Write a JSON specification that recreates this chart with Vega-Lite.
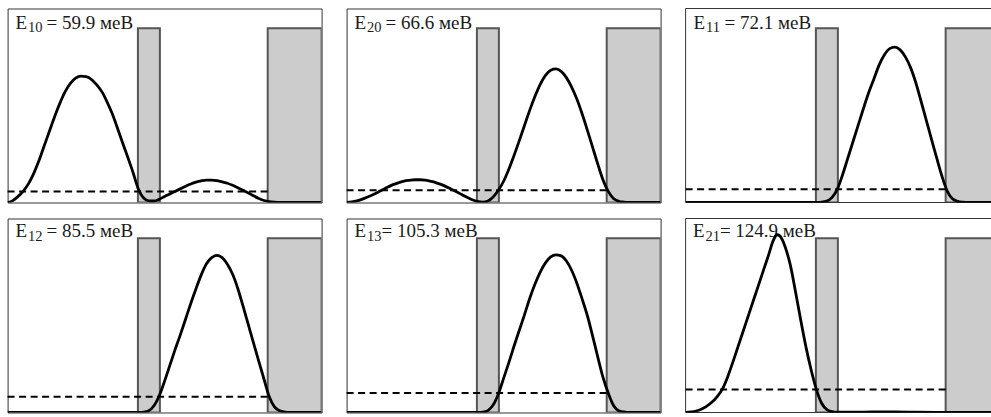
{
"$schema": "https://vega.github.io/schema/vega-lite/v6.json",
"background": "white",
"padding": {"left": 5.6, "top": 7.5, "right": 0, "bottom": 3},
"columns": 3,
"spacing": {"row": 16, "column": 25},
"bounds": "flush",
"datasets": {
"barriers": [{"x1": 12.45, "x2": 14.55, "bottom": 0, "top": 943}, {"x1": 24.85, "x2": 30, "bottom": 0, "top": 943}],
"frame": [{"xa": 0, "xb": 29.24, "ya": 1050, "yb": 1050}, {"xa": 0, "xb": 29.24, "ya": 0, "yb": 0}, {"xa": 0, "xb": 0, "ya": 0, "yb": 1050}],
"levels": [{"panel": 1, "E": 59.9, "xa": 0, "xb": 24.85}, {"panel": 2, "E": 66.6, "xa": 0, "xb": 24.85}, {"panel": 3, "E": 72.1, "xa": 0, "xb": 24.85}, {"panel": 4, "E": 85.5, "xa": 0, "xb": 24.85}, {"panel": 5, "E": 105.3, "xa": 0, "xb": 24.85}, {"panel": 6, "E": 124.9, "xa": 0, "xb": 24.85}],
"labels": [
{"panel": 1, "sym": "E", "sub": "10", "rest": "= 59.9 меВ"},
{"panel": 2, "sym": "E", "sub": "20", "rest": "= 66.6 меВ"},
{"panel": 3, "sym": "E", "sub": "11", "rest": "= 72.1 меВ"},
{"panel": 4, "sym": "E", "sub": "12", "rest": "= 85.5 меВ"},
{"panel": 5, "sym": "E", "sub": "13", "rest": "= 105.3 меВ"},
{"panel": 6, "sym": "E", "sub": "21", "rest": "= 124.9 меВ"}
],
"psi": [
{"p":1,"x":0,"y":0},{"p":1,"x":0.5,"y":10},{"p":1,"x":1,"y":33},{"p":1,"x":1.5,"y":62},{"p":1,"x":2,"y":102},{"p":1,"x":2.5,"y":158},{"p":1,"x":3,"y":227},{"p":1,"x":3.5,"y":307},{"p":1,"x":4,"y":387},{"p":1,"x":4.5,"y":466},{"p":1,"x":5,"y":538},{"p":1,"x":5.5,"y":600},{"p":1,"x":6,"y":645},{"p":1,"x":6.5,"y":673},{"p":1,"x":7,"y":684},{"p":1,"x":7.5,"y":681},{"p":1,"x":8,"y":667},{"p":1,"x":8.5,"y":638},{"p":1,"x":9,"y":600},{"p":1,"x":9.5,"y":545},{"p":1,"x":10,"y":480},{"p":1,"x":10.5,"y":402},{"p":1,"x":11,"y":321},{"p":1,"x":11.5,"y":242},{"p":1,"x":12,"y":160},{"p":1,"x":12.5,"y":72},{"p":1,"x":13,"y":24},{"p":1,"x":13.5,"y":9},{"p":1,"x":14,"y":8},{"p":1,"x":14.5,"y":18},{"p":1,"x":15,"y":33},{"p":1,"x":15.5,"y":46},{"p":1,"x":16,"y":60},{"p":1,"x":16.5,"y":74},{"p":1,"x":17,"y":88},{"p":1,"x":17.5,"y":100},{"p":1,"x":18,"y":110},{"p":1,"x":18.5,"y":117},{"p":1,"x":19,"y":121},{"p":1,"x":19.5,"y":121},{"p":1,"x":20,"y":118},{"p":1,"x":20.5,"y":112},{"p":1,"x":21,"y":104},{"p":1,"x":21.5,"y":93},{"p":1,"x":22,"y":80},{"p":1,"x":22.5,"y":66},{"p":1,"x":23,"y":52},{"p":1,"x":23.5,"y":36},{"p":1,"x":24,"y":22},{"p":1,"x":24.5,"y":11},{"p":1,"x":25,"y":5},{"p":1,"x":25.5,"y":2},{"p":1,"x":26,"y":0.5},{"p":1,"x":27,"y":0},{"p":1,"x":30,"y":0},
{"p":2,"x":0,"y":0},{"p":2,"x":0.5,"y":3},{"p":2,"x":1,"y":9},{"p":2,"x":1.5,"y":18},{"p":2,"x":2,"y":30},{"p":2,"x":2.5,"y":42},{"p":2,"x":3,"y":56},{"p":2,"x":3.5,"y":71},{"p":2,"x":4,"y":85},{"p":2,"x":4.5,"y":98},{"p":2,"x":5,"y":108},{"p":2,"x":5.5,"y":116},{"p":2,"x":6,"y":120},{"p":2,"x":6.5,"y":123},{"p":2,"x":7,"y":123},{"p":2,"x":7.5,"y":121},{"p":2,"x":8,"y":115},{"p":2,"x":8.5,"y":108},{"p":2,"x":9,"y":98},{"p":2,"x":9.5,"y":86},{"p":2,"x":10,"y":72},{"p":2,"x":10.5,"y":58},{"p":2,"x":11,"y":43},{"p":2,"x":11.5,"y":28},{"p":2,"x":12,"y":15},{"p":2,"x":12.5,"y":6},{"p":2,"x":13,"y":2},{"p":2,"x":13.5,"y":8},{"p":2,"x":14,"y":30},{"p":2,"x":14.5,"y":66},{"p":2,"x":15,"y":115},{"p":2,"x":15.5,"y":180},{"p":2,"x":16,"y":255},{"p":2,"x":16.5,"y":335},{"p":2,"x":17,"y":418},{"p":2,"x":17.5,"y":500},{"p":2,"x":18,"y":575},{"p":2,"x":18.5,"y":640},{"p":2,"x":19,"y":688},{"p":2,"x":19.5,"y":716},{"p":2,"x":20,"y":723},{"p":2,"x":20.5,"y":710},{"p":2,"x":21,"y":676},{"p":2,"x":21.5,"y":625},{"p":2,"x":22,"y":560},{"p":2,"x":22.5,"y":480},{"p":2,"x":23,"y":392},{"p":2,"x":23.5,"y":300},{"p":2,"x":24,"y":208},{"p":2,"x":24.5,"y":122},{"p":2,"x":25,"y":60},{"p":2,"x":25.5,"y":22},{"p":2,"x":26,"y":7},{"p":2,"x":26.5,"y":2},{"p":2,"x":27,"y":0},{"p":2,"x":30,"y":0},
{"p":3,"x":0,"y":0},{"p":3,"x":12,"y":0},{"p":3,"x":12.5,"y":0.5},{"p":3,"x":13,"y":2},{"p":3,"x":13.5,"y":8},{"p":3,"x":14,"y":28},{"p":3,"x":14.5,"y":72},{"p":3,"x":15,"y":150},{"p":3,"x":15.5,"y":240},{"p":3,"x":16,"y":330},{"p":3,"x":16.5,"y":420},{"p":3,"x":17,"y":510},{"p":3,"x":17.5,"y":595},{"p":3,"x":18,"y":670},{"p":3,"x":18.5,"y":745},{"p":3,"x":19,"y":800},{"p":3,"x":19.5,"y":833},{"p":3,"x":20,"y":841},{"p":3,"x":20.5,"y":826},{"p":3,"x":21,"y":788},{"p":3,"x":21.5,"y":730},{"p":3,"x":22,"y":648},{"p":3,"x":22.5,"y":548},{"p":3,"x":23,"y":445},{"p":3,"x":23.5,"y":342},{"p":3,"x":24,"y":240},{"p":3,"x":24.5,"y":142},{"p":3,"x":25,"y":62},{"p":3,"x":25.5,"y":20},{"p":3,"x":26,"y":6},{"p":3,"x":26.5,"y":1.5},{"p":3,"x":27,"y":0},{"p":3,"x":30,"y":0},
{"p":4,"x":0,"y":0},{"p":4,"x":12,"y":0},{"p":4,"x":12.5,"y":0.5},{"p":4,"x":13,"y":2},{"p":4,"x":13.5,"y":10},{"p":4,"x":14,"y":38},{"p":4,"x":14.5,"y":92},{"p":4,"x":15,"y":170},{"p":4,"x":15.5,"y":255},{"p":4,"x":16,"y":340},{"p":4,"x":16.5,"y":420},{"p":4,"x":17,"y":505},{"p":4,"x":17.5,"y":590},{"p":4,"x":18,"y":670},{"p":4,"x":18.5,"y":745},{"p":4,"x":19,"y":805},{"p":4,"x":19.5,"y":838},{"p":4,"x":20,"y":850},{"p":4,"x":20.5,"y":838},{"p":4,"x":21,"y":803},{"p":4,"x":21.5,"y":748},{"p":4,"x":22,"y":670},{"p":4,"x":22.5,"y":575},{"p":4,"x":23,"y":475},{"p":4,"x":23.5,"y":375},{"p":4,"x":24,"y":277},{"p":4,"x":24.5,"y":180},{"p":4,"x":25,"y":85},{"p":4,"x":25.5,"y":30},{"p":4,"x":26,"y":9},{"p":4,"x":26.5,"y":2.5},{"p":4,"x":27,"y":0},{"p":4,"x":30,"y":0},
{"p":5,"x":0,"y":0},{"p":5,"x":12,"y":0},{"p":5,"x":12.5,"y":0.5},{"p":5,"x":13,"y":2},{"p":5,"x":13.5,"y":10},{"p":5,"x":14,"y":40},{"p":5,"x":14.5,"y":100},{"p":5,"x":15,"y":185},{"p":5,"x":15.5,"y":270},{"p":5,"x":16,"y":360},{"p":5,"x":16.5,"y":445},{"p":5,"x":17,"y":530},{"p":5,"x":17.5,"y":618},{"p":5,"x":18,"y":695},{"p":5,"x":18.5,"y":760},{"p":5,"x":19,"y":810},{"p":5,"x":19.5,"y":842},{"p":5,"x":20,"y":853},{"p":5,"x":20.5,"y":848},{"p":5,"x":21,"y":820},{"p":5,"x":21.5,"y":770},{"p":5,"x":22,"y":700},{"p":5,"x":22.5,"y":615},{"p":5,"x":23,"y":525},{"p":5,"x":23.5,"y":415},{"p":5,"x":24,"y":300},{"p":5,"x":24.5,"y":190},{"p":5,"x":25,"y":105},{"p":5,"x":25.5,"y":38},{"p":5,"x":26,"y":10},{"p":5,"x":26.5,"y":3},{"p":5,"x":27,"y":0},{"p":5,"x":30,"y":0},
{"p":6,"x":0,"y":0},{"p":6,"x":0.5,"y":3},{"p":6,"x":1,"y":8},{"p":6,"x":1.5,"y":18},{"p":6,"x":2,"y":33},{"p":6,"x":2.5,"y":55},{"p":6,"x":3,"y":85},{"p":6,"x":3.5,"y":125},{"p":6,"x":4,"y":190},{"p":6,"x":4.5,"y":270},{"p":6,"x":5,"y":355},{"p":6,"x":5.5,"y":440},{"p":6,"x":6,"y":525},{"p":6,"x":6.5,"y":610},{"p":6,"x":7,"y":695},{"p":6,"x":7.5,"y":780},{"p":6,"x":8,"y":865},{"p":6,"x":8.25,"y":912},{"p":6,"x":8.5,"y":946},{"p":6,"x":8.75,"y":962},{"p":6,"x":9,"y":956},{"p":6,"x":9.25,"y":934},{"p":6,"x":9.5,"y":898},{"p":6,"x":10,"y":800},{"p":6,"x":10.5,"y":655},{"p":6,"x":11,"y":500},{"p":6,"x":11.5,"y":355},{"p":6,"x":12,"y":230},{"p":6,"x":12.5,"y":124},{"p":6,"x":13,"y":50},{"p":6,"x":13.5,"y":16},{"p":6,"x":14,"y":5},{"p":6,"x":14.5,"y":2},{"p":6,"x":16,"y":2},{"p":6,"x":18,"y":3},{"p":6,"x":20,"y":3},{"p":6,"x":22,"y":2},{"p":6,"x":24,"y":1},{"p":6,"x":25,"y":0.3},{"p":6,"x":26,"y":0},{"p":6,"x":30,"y":0}
]
},
"concat": [
{"width": 314, "height": 194, "view": {"stroke": "#333333", "strokeWidth": 1}, "layer": [
{"data": {"name": "barriers"}, "mark": {"type": "rect", "fill": "#cccccc", "stroke": "#555555", "strokeWidth": 2, "clip": true}, "encoding": {"x": {"field": "x1", "type": "quantitative", "scale": {"domain": [0, 30], "nice": false, "zero": false}, "axis": null}, "x2": {"field": "x2"}, "y": {"field": "bottom", "type": "quantitative", "scale": {"domain": [0, 1050], "nice": false, "zero": false}, "axis": null}, "y2": {"field": "top"}}},
{"data": {"name": "levels"}, "transform": [{"filter": "datum.panel == 1"}], "mark": {"type": "rule", "color": "#000000", "strokeWidth": 2, "strokeDash": [7, 4.5]}, "encoding": {"x": {"field": "xa", "type": "quantitative", "scale": {"domain": [0, 30], "nice": false, "zero": false}, "axis": null}, "x2": {"field": "xb"}, "y": {"field": "E", "type": "quantitative", "scale": {"domain": [0, 1050], "nice": false, "zero": false}, "axis": null}}},
{"data": {"name": "labels"}, "transform": [{"filter": "datum.panel == 1"}], "mark": {"type": "text", "font": "Liberation Serif", "fontSize": 19, "align": "left", "baseline": "alphabetic", "color": "#1a1a1a"}, "encoding": {"x": {"datum": 0.76, "type": "quantitative", "scale": {"domain": [0, 30], "nice": false, "zero": false}, "axis": null}, "y": {"datum": 940, "type": "quantitative", "scale": {"domain": [0, 1050], "nice": false, "zero": false}, "axis": null}, "text": {"field": "sym"}}},
{"data": {"name": "labels"}, "transform": [{"filter": "datum.panel == 1"}], "mark": {"type": "text", "font": "Liberation Serif", "fontSize": 14.5, "align": "left", "baseline": "alphabetic", "color": "#1a1a1a", "dx": 12.5, "dy": 3.5}, "encoding": {"x": {"datum": 0.76, "type": "quantitative", "scale": {"domain": [0, 30], "nice": false, "zero": false}, "axis": null}, "y": {"datum": 940, "type": "quantitative", "scale": {"domain": [0, 1050], "nice": false, "zero": false}, "axis": null}, "text": {"field": "sub"}}},
{"data": {"name": "labels"}, "transform": [{"filter": "datum.panel == 1"}], "mark": {"type": "text", "font": "Liberation Serif", "fontSize": 19, "align": "left", "baseline": "alphabetic", "color": "#1a1a1a", "dx": 31}, "encoding": {"x": {"datum": 0.76, "type": "quantitative", "scale": {"domain": [0, 30], "nice": false, "zero": false}, "axis": null}, "y": {"datum": 940, "type": "quantitative", "scale": {"domain": [0, 1050], "nice": false, "zero": false}, "axis": null}, "text": {"field": "rest"}}},
{"data": {"name": "psi"}, "transform": [{"filter": "datum.p == 1"}], "mark": {"type": "line", "color": "#000000", "strokeWidth": 2.8, "interpolate": "monotone", "clip": true}, "encoding": {"x": {"field": "x", "type": "quantitative", "scale": {"domain": [0, 30], "nice": false, "zero": false}, "axis": null}, "y": {"field": "y", "type": "quantitative", "scale": {"domain": [0, 1050], "nice": false, "zero": false}, "axis": null}}}
]},
{"width": 314, "height": 194, "view": {"stroke": "#333333", "strokeWidth": 1}, "layer": [
{"data": {"name": "barriers"}, "mark": {"type": "rect", "fill": "#cccccc", "stroke": "#555555", "strokeWidth": 2, "clip": true}, "encoding": {"x": {"field": "x1", "type": "quantitative", "scale": {"domain": [0, 30], "nice": false, "zero": false}, "axis": null}, "x2": {"field": "x2"}, "y": {"field": "bottom", "type": "quantitative", "scale": {"domain": [0, 1050], "nice": false, "zero": false}, "axis": null}, "y2": {"field": "top"}}},
{"data": {"name": "levels"}, "transform": [{"filter": "datum.panel == 2"}], "mark": {"type": "rule", "color": "#000000", "strokeWidth": 2, "strokeDash": [7, 4.5]}, "encoding": {"x": {"field": "xa", "type": "quantitative", "scale": {"domain": [0, 30], "nice": false, "zero": false}, "axis": null}, "x2": {"field": "xb"}, "y": {"field": "E", "type": "quantitative", "scale": {"domain": [0, 1050], "nice": false, "zero": false}, "axis": null}}},
{"data": {"name": "labels"}, "transform": [{"filter": "datum.panel == 2"}], "mark": {"type": "text", "font": "Liberation Serif", "fontSize": 19, "align": "left", "baseline": "alphabetic", "color": "#1a1a1a"}, "encoding": {"x": {"datum": 0.76, "type": "quantitative", "scale": {"domain": [0, 30], "nice": false, "zero": false}, "axis": null}, "y": {"datum": 940, "type": "quantitative", "scale": {"domain": [0, 1050], "nice": false, "zero": false}, "axis": null}, "text": {"field": "sym"}}},
{"data": {"name": "labels"}, "transform": [{"filter": "datum.panel == 2"}], "mark": {"type": "text", "font": "Liberation Serif", "fontSize": 14.5, "align": "left", "baseline": "alphabetic", "color": "#1a1a1a", "dx": 12.5, "dy": 3.5}, "encoding": {"x": {"datum": 0.76, "type": "quantitative", "scale": {"domain": [0, 30], "nice": false, "zero": false}, "axis": null}, "y": {"datum": 940, "type": "quantitative", "scale": {"domain": [0, 1050], "nice": false, "zero": false}, "axis": null}, "text": {"field": "sub"}}},
{"data": {"name": "labels"}, "transform": [{"filter": "datum.panel == 2"}], "mark": {"type": "text", "font": "Liberation Serif", "fontSize": 19, "align": "left", "baseline": "alphabetic", "color": "#1a1a1a", "dx": 31}, "encoding": {"x": {"datum": 0.76, "type": "quantitative", "scale": {"domain": [0, 30], "nice": false, "zero": false}, "axis": null}, "y": {"datum": 940, "type": "quantitative", "scale": {"domain": [0, 1050], "nice": false, "zero": false}, "axis": null}, "text": {"field": "rest"}}},
{"data": {"name": "psi"}, "transform": [{"filter": "datum.p == 2"}], "mark": {"type": "line", "color": "#000000", "strokeWidth": 2.8, "interpolate": "monotone", "clip": true}, "encoding": {"x": {"field": "x", "type": "quantitative", "scale": {"domain": [0, 30], "nice": false, "zero": false}, "axis": null}, "y": {"field": "y", "type": "quantitative", "scale": {"domain": [0, 1050], "nice": false, "zero": false}, "axis": null}}}
]},
{"width": 306, "height": 194, "view": {"stroke": null}, "layer": [
{"data": {"name": "barriers"}, "mark": {"type": "rect", "fill": "#cccccc", "stroke": "#555555", "strokeWidth": 2, "clip": true}, "encoding": {"x": {"field": "x1", "type": "quantitative", "scale": {"domain": [0, 29.24], "nice": false, "zero": false}, "axis": null}, "x2": {"field": "x2"}, "y": {"field": "bottom", "type": "quantitative", "scale": {"domain": [0, 1050], "nice": false, "zero": false}, "axis": null}, "y2": {"field": "top"}}},
{"data": {"name": "frame"}, "mark": {"type": "rule", "color": "#333333", "strokeWidth": 1}, "encoding": {"x": {"field": "xa", "type": "quantitative", "scale": {"domain": [0, 29.24], "nice": false, "zero": false}, "axis": null}, "x2": {"field": "xb"}, "y": {"field": "ya", "type": "quantitative", "scale": {"domain": [0, 1050], "nice": false, "zero": false}, "axis": null}, "y2": {"field": "yb"}}},
{"data": {"name": "levels"}, "transform": [{"filter": "datum.panel == 3"}], "mark": {"type": "rule", "color": "#000000", "strokeWidth": 2, "strokeDash": [7, 4.5]}, "encoding": {"x": {"field": "xa", "type": "quantitative", "scale": {"domain": [0, 29.24], "nice": false, "zero": false}, "axis": null}, "x2": {"field": "xb"}, "y": {"field": "E", "type": "quantitative", "scale": {"domain": [0, 1050], "nice": false, "zero": false}, "axis": null}}},
{"data": {"name": "labels"}, "transform": [{"filter": "datum.panel == 3"}], "mark": {"type": "text", "font": "Liberation Serif", "fontSize": 19, "align": "left", "baseline": "alphabetic", "color": "#1a1a1a"}, "encoding": {"x": {"datum": 0.76, "type": "quantitative", "scale": {"domain": [0, 29.24], "nice": false, "zero": false}, "axis": null}, "y": {"datum": 940, "type": "quantitative", "scale": {"domain": [0, 1050], "nice": false, "zero": false}, "axis": null}, "text": {"field": "sym"}}},
{"data": {"name": "labels"}, "transform": [{"filter": "datum.panel == 3"}], "mark": {"type": "text", "font": "Liberation Serif", "fontSize": 14.5, "align": "left", "baseline": "alphabetic", "color": "#1a1a1a", "dx": 12.5, "dy": 3.5}, "encoding": {"x": {"datum": 0.76, "type": "quantitative", "scale": {"domain": [0, 29.24], "nice": false, "zero": false}, "axis": null}, "y": {"datum": 940, "type": "quantitative", "scale": {"domain": [0, 1050], "nice": false, "zero": false}, "axis": null}, "text": {"field": "sub"}}},
{"data": {"name": "labels"}, "transform": [{"filter": "datum.panel == 3"}], "mark": {"type": "text", "font": "Liberation Serif", "fontSize": 19, "align": "left", "baseline": "alphabetic", "color": "#1a1a1a", "dx": 31}, "encoding": {"x": {"datum": 0.76, "type": "quantitative", "scale": {"domain": [0, 29.24], "nice": false, "zero": false}, "axis": null}, "y": {"datum": 940, "type": "quantitative", "scale": {"domain": [0, 1050], "nice": false, "zero": false}, "axis": null}, "text": {"field": "rest"}}},
{"data": {"name": "psi"}, "transform": [{"filter": "datum.p == 3"}], "mark": {"type": "line", "color": "#000000", "strokeWidth": 2.8, "interpolate": "monotone", "clip": true}, "encoding": {"x": {"field": "x", "type": "quantitative", "scale": {"domain": [0, 29.24], "nice": false, "zero": false}, "axis": null}, "y": {"field": "y", "type": "quantitative", "scale": {"domain": [0, 1050], "nice": false, "zero": false}, "axis": null}}}
]},
{"width": 314, "height": 194, "view": {"stroke": "#333333", "strokeWidth": 1}, "layer": [
{"data": {"name": "barriers"}, "mark": {"type": "rect", "fill": "#cccccc", "stroke": "#555555", "strokeWidth": 2, "clip": true}, "encoding": {"x": {"field": "x1", "type": "quantitative", "scale": {"domain": [0, 30], "nice": false, "zero": false}, "axis": null}, "x2": {"field": "x2"}, "y": {"field": "bottom", "type": "quantitative", "scale": {"domain": [0, 1050], "nice": false, "zero": false}, "axis": null}, "y2": {"field": "top"}}},
{"data": {"name": "levels"}, "transform": [{"filter": "datum.panel == 4"}], "mark": {"type": "rule", "color": "#000000", "strokeWidth": 2, "strokeDash": [7, 4.5]}, "encoding": {"x": {"field": "xa", "type": "quantitative", "scale": {"domain": [0, 30], "nice": false, "zero": false}, "axis": null}, "x2": {"field": "xb"}, "y": {"field": "E", "type": "quantitative", "scale": {"domain": [0, 1050], "nice": false, "zero": false}, "axis": null}}},
{"data": {"name": "labels"}, "transform": [{"filter": "datum.panel == 4"}], "mark": {"type": "text", "font": "Liberation Serif", "fontSize": 19, "align": "left", "baseline": "alphabetic", "color": "#1a1a1a"}, "encoding": {"x": {"datum": 0.76, "type": "quantitative", "scale": {"domain": [0, 30], "nice": false, "zero": false}, "axis": null}, "y": {"datum": 948, "type": "quantitative", "scale": {"domain": [0, 1050], "nice": false, "zero": false}, "axis": null}, "text": {"field": "sym"}}},
{"data": {"name": "labels"}, "transform": [{"filter": "datum.panel == 4"}], "mark": {"type": "text", "font": "Liberation Serif", "fontSize": 14.5, "align": "left", "baseline": "alphabetic", "color": "#1a1a1a", "dx": 12.5, "dy": 3.5}, "encoding": {"x": {"datum": 0.76, "type": "quantitative", "scale": {"domain": [0, 30], "nice": false, "zero": false}, "axis": null}, "y": {"datum": 948, "type": "quantitative", "scale": {"domain": [0, 1050], "nice": false, "zero": false}, "axis": null}, "text": {"field": "sub"}}},
{"data": {"name": "labels"}, "transform": [{"filter": "datum.panel == 4"}], "mark": {"type": "text", "font": "Liberation Serif", "fontSize": 19, "align": "left", "baseline": "alphabetic", "color": "#1a1a1a", "dx": 31}, "encoding": {"x": {"datum": 0.76, "type": "quantitative", "scale": {"domain": [0, 30], "nice": false, "zero": false}, "axis": null}, "y": {"datum": 948, "type": "quantitative", "scale": {"domain": [0, 1050], "nice": false, "zero": false}, "axis": null}, "text": {"field": "rest"}}},
{"data": {"name": "psi"}, "transform": [{"filter": "datum.p == 4"}], "mark": {"type": "line", "color": "#000000", "strokeWidth": 2.8, "interpolate": "monotone", "clip": true}, "encoding": {"x": {"field": "x", "type": "quantitative", "scale": {"domain": [0, 30], "nice": false, "zero": false}, "axis": null}, "y": {"field": "y", "type": "quantitative", "scale": {"domain": [0, 1050], "nice": false, "zero": false}, "axis": null}}}
]},
{"width": 314, "height": 194, "view": {"stroke": "#333333", "strokeWidth": 1}, "layer": [
{"data": {"name": "barriers"}, "mark": {"type": "rect", "fill": "#cccccc", "stroke": "#555555", "strokeWidth": 2, "clip": true}, "encoding": {"x": {"field": "x1", "type": "quantitative", "scale": {"domain": [0, 30], "nice": false, "zero": false}, "axis": null}, "x2": {"field": "x2"}, "y": {"field": "bottom", "type": "quantitative", "scale": {"domain": [0, 1050], "nice": false, "zero": false}, "axis": null}, "y2": {"field": "top"}}},
{"data": {"name": "levels"}, "transform": [{"filter": "datum.panel == 5"}], "mark": {"type": "rule", "color": "#000000", "strokeWidth": 2, "strokeDash": [7, 4.5]}, "encoding": {"x": {"field": "xa", "type": "quantitative", "scale": {"domain": [0, 30], "nice": false, "zero": false}, "axis": null}, "x2": {"field": "xb"}, "y": {"field": "E", "type": "quantitative", "scale": {"domain": [0, 1050], "nice": false, "zero": false}, "axis": null}}},
{"data": {"name": "labels"}, "transform": [{"filter": "datum.panel == 5"}], "mark": {"type": "text", "font": "Liberation Serif", "fontSize": 19, "align": "left", "baseline": "alphabetic", "color": "#1a1a1a"}, "encoding": {"x": {"datum": 0.76, "type": "quantitative", "scale": {"domain": [0, 30], "nice": false, "zero": false}, "axis": null}, "y": {"datum": 948, "type": "quantitative", "scale": {"domain": [0, 1050], "nice": false, "zero": false}, "axis": null}, "text": {"field": "sym"}}},
{"data": {"name": "labels"}, "transform": [{"filter": "datum.panel == 5"}], "mark": {"type": "text", "font": "Liberation Serif", "fontSize": 14.5, "align": "left", "baseline": "alphabetic", "color": "#1a1a1a", "dx": 12.5, "dy": 3.5}, "encoding": {"x": {"datum": 0.76, "type": "quantitative", "scale": {"domain": [0, 30], "nice": false, "zero": false}, "axis": null}, "y": {"datum": 948, "type": "quantitative", "scale": {"domain": [0, 1050], "nice": false, "zero": false}, "axis": null}, "text": {"field": "sub"}}},
{"data": {"name": "labels"}, "transform": [{"filter": "datum.panel == 5"}], "mark": {"type": "text", "font": "Liberation Serif", "fontSize": 19, "align": "left", "baseline": "alphabetic", "color": "#1a1a1a", "dx": 27}, "encoding": {"x": {"datum": 0.76, "type": "quantitative", "scale": {"domain": [0, 30], "nice": false, "zero": false}, "axis": null}, "y": {"datum": 948, "type": "quantitative", "scale": {"domain": [0, 1050], "nice": false, "zero": false}, "axis": null}, "text": {"field": "rest"}}},
{"data": {"name": "psi"}, "transform": [{"filter": "datum.p == 5"}], "mark": {"type": "line", "color": "#000000", "strokeWidth": 2.8, "interpolate": "monotone", "clip": true}, "encoding": {"x": {"field": "x", "type": "quantitative", "scale": {"domain": [0, 30], "nice": false, "zero": false}, "axis": null}, "y": {"field": "y", "type": "quantitative", "scale": {"domain": [0, 1050], "nice": false, "zero": false}, "axis": null}}}
]},
{"width": 306, "height": 194, "view": {"stroke": null}, "layer": [
{"data": {"name": "barriers"}, "mark": {"type": "rect", "fill": "#cccccc", "stroke": "#555555", "strokeWidth": 2, "clip": true}, "encoding": {"x": {"field": "x1", "type": "quantitative", "scale": {"domain": [0, 29.24], "nice": false, "zero": false}, "axis": null}, "x2": {"field": "x2"}, "y": {"field": "bottom", "type": "quantitative", "scale": {"domain": [0, 1050], "nice": false, "zero": false}, "axis": null}, "y2": {"field": "top"}}},
{"data": {"name": "frame"}, "mark": {"type": "rule", "color": "#333333", "strokeWidth": 1}, "encoding": {"x": {"field": "xa", "type": "quantitative", "scale": {"domain": [0, 29.24], "nice": false, "zero": false}, "axis": null}, "x2": {"field": "xb"}, "y": {"field": "ya", "type": "quantitative", "scale": {"domain": [0, 1050], "nice": false, "zero": false}, "axis": null}, "y2": {"field": "yb"}}},
{"data": {"name": "levels"}, "transform": [{"filter": "datum.panel == 6"}], "mark": {"type": "rule", "color": "#000000", "strokeWidth": 2, "strokeDash": [7, 4.5]}, "encoding": {"x": {"field": "xa", "type": "quantitative", "scale": {"domain": [0, 29.24], "nice": false, "zero": false}, "axis": null}, "x2": {"field": "xb"}, "y": {"field": "E", "type": "quantitative", "scale": {"domain": [0, 1050], "nice": false, "zero": false}, "axis": null}}},
{"data": {"name": "labels"}, "transform": [{"filter": "datum.panel == 6"}], "mark": {"type": "text", "font": "Liberation Serif", "fontSize": 19, "align": "left", "baseline": "alphabetic", "color": "#1a1a1a"}, "encoding": {"x": {"datum": 0.7, "type": "quantitative", "scale": {"domain": [0, 29.24], "nice": false, "zero": false}, "axis": null}, "y": {"datum": 948, "type": "quantitative", "scale": {"domain": [0, 1050], "nice": false, "zero": false}, "axis": null}, "text": {"field": "sym"}}},
{"data": {"name": "labels"}, "transform": [{"filter": "datum.panel == 6"}], "mark": {"type": "text", "font": "Liberation Serif", "fontSize": 14.5, "align": "left", "baseline": "alphabetic", "color": "#1a1a1a", "dx": 12.5, "dy": 3.5}, "encoding": {"x": {"datum": 0.7, "type": "quantitative", "scale": {"domain": [0, 29.24], "nice": false, "zero": false}, "axis": null}, "y": {"datum": 948, "type": "quantitative", "scale": {"domain": [0, 1050], "nice": false, "zero": false}, "axis": null}, "text": {"field": "sub"}}},
{"data": {"name": "labels"}, "transform": [{"filter": "datum.panel == 6"}], "mark": {"type": "text", "font": "Liberation Serif", "fontSize": 19, "align": "left", "baseline": "alphabetic", "color": "#1a1a1a", "dx": 27}, "encoding": {"x": {"datum": 0.7, "type": "quantitative", "scale": {"domain": [0, 29.24], "nice": false, "zero": false}, "axis": null}, "y": {"datum": 948, "type": "quantitative", "scale": {"domain": [0, 1050], "nice": false, "zero": false}, "axis": null}, "text": {"field": "rest"}}},
{"data": {"name": "psi"}, "transform": [{"filter": "datum.p == 6"}], "mark": {"type": "line", "color": "#000000", "strokeWidth": 2.8, "interpolate": "monotone", "clip": true}, "encoding": {"x": {"field": "x", "type": "quantitative", "scale": {"domain": [0, 29.24], "nice": false, "zero": false}, "axis": null}, "y": {"field": "y", "type": "quantitative", "scale": {"domain": [0, 1050], "nice": false, "zero": false}, "axis": null}}}
]}
]
}
